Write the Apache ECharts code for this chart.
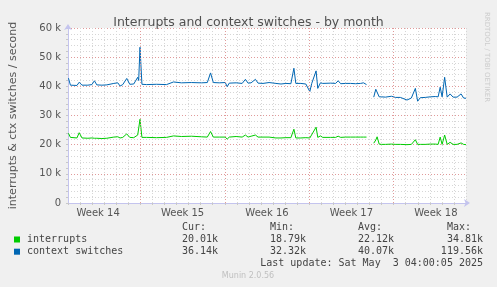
<!DOCTYPE html>
<html><head><meta charset="utf-8">
<script src="https://cdn.jsdelivr.net/npm/echarts@6/dist/echarts.min.js"></script>
<style>html,body{margin:0;padding:0;background:#f0f0f0;}#c{width:497px;height:287px;}</style>
</head><body><div id="c"></div>
<script>
// x positions in days from the left edge of the graph
const days = [0.04,0.2,0.74,0.93,1.16,1.65,1.98,2.19,2.39,2.81,3.22,3.30,3.80,4.13,4.32,4.54,4.87,5.12,5.45,5.78,5.86,5.97,6.13,6.52,7.34,8.17,8.75,9.41,10.23,11.06,11.55,11.82,12.05,12.54,13.04,13.20,13.37,13.94,14.44,14.71,14.93,15.18,15.54,15.76,16.17,16.67,17.24,17.66,18.07,18.48,18.73,18.89,19.31,19.72,20.05,20.21,20.57,20.71,20.93,21.12,21.78,22.19,22.40,22.61,23.02,23.43,23.84,24.26,24.50,24.75,25.05,25.35,25.52,25.63,25.80,25.99,26.32,26.82,27.15,27.56,28.11,28.47,28.80,28.99,29.21,29.62,30.03,30.45,30.69,30.86,31.02,31.23,31.44,31.68,31.93,32.26,32.59,32.80,33.0];
const contextSwitches = [42800,40400,40300,41400,40400,40400,40600,41900,40500,40400,40500,41000,41000,41200,40100,40600,42700,40700,40800,43100,42000,53400,40700,40600,40700,40600,41500,41200,41300,41200,41300,44600,41300,41200,41300,39900,41100,41200,41000,42400,41100,41200,42400,41100,41000,41300,41000,40800,41000,40900,46200,41000,41000,40800,38200,41000,45300,39300,41200,41000,41100,41000,41900,40900,41000,41000,40900,41000,41200,40600,null,36300,39000,39500,36400,36400,36300,36600,36200,36200,35300,36000,39300,34900,36100,36200,36400,36500,36400,39700,36400,43100,36300,37400,36300,36300,37400,36000,35900];
const interrupts = [23900,22500,22300,24100,22300,22200,22300,22200,22200,22100,22200,22600,22600,22700,22300,22500,23700,22500,22400,23300,22800,28700,22500,22500,22400,22500,23000,22800,22900,22700,22600,24500,22600,22600,22600,21900,22600,22800,22600,23300,22600,22900,23300,22600,22600,22600,22300,22300,22400,22400,25300,22300,22300,22400,22300,22400,26000,22500,23000,22500,22500,22500,22900,22500,22600,22600,22600,22600,22600,22600,null,20500,21600,22700,20200,20100,20100,20200,20100,20100,20000,20100,21700,20100,20100,20100,20200,20200,20100,22600,20100,23300,20100,20800,20100,20100,20600,20100,20000];
const weekStarts = [-1, 6, 13, 20, 27];
const weekLabels = ['Week 14','Week 15','Week 16','Week 17','Week 18'];
const yTicks = [0,10000,20000,30000,40000,50000,60000];
const seriesNames = ['interrupts','context switches'];
const seriesColors = ['#00cc00','#0066b3'];
const curVals = ['20.01k','36.14k'];
const minVals = ['18.79k','32.32k'];
const avgVals = ['22.12k','40.07k'];
const maxVals = ['34.81k','119.56k'];
const titleText = 'Interrupts and context switches - by month';
const yAxisTitle = 'interrupts & ctx switches / second';
const lastUpdate = 'Last update: Sat May  3 04:00:05 2025';
const footer = 'Munin 2.0.56';
const sideText = 'RRDTOOL / TOBI OETIKER';

const toData = vals => days.map((d, i) => [d, vals[i] == null ? '-' : vals[i]]);
const labelCenters = weekStarts.map(s => s + 3.5);

const mono = 'DejaVu Sans Mono';
const txt = (x, y, text, align, extra) => Object.assign({
  type: 'text', x: x, y: y, silent: true,
  style: { text: text, font: '10px "' + mono + '"', fill: '#444', textAlign: align || 'left', textVerticalAlign: 'middle' }
}, extra || {});

const graphics = [];
graphics.push(txt(182, 227.5, 'Cur:'));
graphics.push(txt(270, 227.5, 'Min:'));
graphics.push(txt(358, 227.5, 'Avg:'));
graphics.push(txt(447, 227.5, 'Max:'));
seriesNames.forEach((n, i) => {
  const y = 239.5 + i * 12.2;
  graphics.push({ type: 'rect', silent: true, shape: { x: 14, y: y - 3, width: 6, height: 6 }, style: { fill: seriesColors[i] } });
  graphics.push(txt(27, y, n));
  graphics.push(txt(182, y, curVals[i]));
  graphics.push(txt(270, y, minVals[i]));
  graphics.push(txt(358, y, avgVals[i]));
  graphics.push(txt(483, y, maxVals[i], 'right'));
});
graphics.push(txt(483, 263.5, lastUpdate, 'right'));
graphics.push({ type: 'text', x: 248, y: 276, silent: true,
  style: { text: footer, font: '8px "DejaVu Sans"', fill: '#c0c0c0', textAlign: 'center', textVerticalAlign: 'middle' } });
graphics.push({ type: 'text', x: 487, y: 57, rotation: -Math.PI / 2, silent: true,
  style: { text: sideText, font: '7px "DejaVu Sans"', fill: '#cccccc', textAlign: 'center', textVerticalAlign: 'middle' } });

const chart = echarts.init(document.getElementById('c'), null, { renderer: 'canvas' });
chart.setOption({
  backgroundColor: '#f0f0f0',
  animation: false,
  textStyle: { fontFamily: 'DejaVu Sans' },
  title: { text: titleText, left: 'center', top: 11,
    textStyle: { fontFamily: 'DejaVu Sans', fontSize: 12.5, fontWeight: 'normal', color: '#505050' } },
  grid: { left: 66, top: 28, width: 400, height: 175, show: true, backgroundColor: '#ffffff', borderWidth: 0, containLabel: false },
  xAxis: {
    type: 'value', min: 0, max: 33, interval: 1,
    axisLine: { show: true, lineStyle: { color: '#c4c4ee', width: 1 }, symbol: ['none', 'arrow'], symbolSize: [6, 6], symbolOffset: [0, 4] },
    axisTick: { show: true, length: 2, lineStyle: { color: '#c8c8c8' } },
    splitLine: { show: true, lineStyle: { color: '#d6d6d6', type: [1, 2], width: 1 } },
    axisLabel: { show: true, customValues: labelCenters, margin: 5, fontSize: 10, color: '#555', fontFamily: 'DejaVu Sans',
      formatter: v => { const i = labelCenters.indexOf(v); return i >= 0 ? weekLabels[i] : ''; } }
  },
  yAxis: {
    type: 'value', min: 0, max: 60000, interval: 10000,
    name: yAxisTitle, nameLocation: 'middle', nameGap: 49,
    nameTextStyle: { fontFamily: 'DejaVu Sans', fontSize: 11, color: '#555' },
    axisLine: { show: true, lineStyle: { color: '#c4c4ee', width: 1 }, symbol: ['none', 'arrow'], symbolSize: [6, 6], symbolOffset: [0, 4] },
    axisTick: { show: true, length: 2, lineStyle: { color: '#c8c8c8' } },
    minorTick: { show: true, splitNumber: 5, length: 2, lineStyle: { color: '#c8c8c8' } },
    splitLine: { show: true, lineStyle: { color: '#e09a9a', type: [1, 2], width: 1 } },
    minorSplitLine: { show: true, lineStyle: { color: '#d6d6d6', type: [1, 2], width: 1 } },
    axisLabel: { margin: 7, fontSize: 10, color: '#555', fontFamily: 'DejaVu Sans',
      formatter: v => yTicks.indexOf(v) >= 0 ? (v === 0 ? '0' : (v / 1000) + ' k') : '' }
  },
  series: [
    { name: seriesNames[0], type: 'line', data: toData(interrupts), showSymbol: false, connectNulls: false,
      lineStyle: { color: seriesColors[0], width: 1 }, itemStyle: { color: seriesColors[0] }, z: 3,
      markLine: { silent: true, symbol: 'none', label: { show: false }, animation: false,
        lineStyle: { color: '#e09a9a', type: [1, 2], width: 1 },
        data: weekStarts.filter(d => d > 0).map(d => ({ xAxis: d })) } },
    { name: seriesNames[1], type: 'line', data: toData(contextSwitches), showSymbol: false, connectNulls: false,
      lineStyle: { color: seriesColors[1], width: 1 }, itemStyle: { color: seriesColors[1] }, z: 4 }
  ],
  graphic: graphics
});
</script></body></html>
